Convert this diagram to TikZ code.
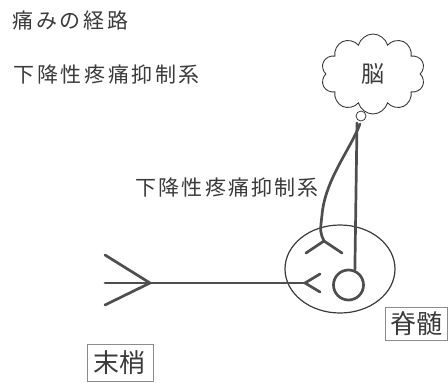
\documentclass[tikz,border=0pt]{standalone}
\usepackage{fontspec}
\usetikzlibrary{shapes.symbols,shapes.geometric}
\newfontfamily\jpplain{Noto Sans CJK JP}
\definecolor{ink}{HTML}{3A3A3A}
\definecolor{nervecol}{HTML}{4E4E4E}
\definecolor{boxline}{HTML}{8C8C8C}
% set a string with a fixed kern after every character
\makeatletter
\def\tracked#1#2{\def\tr@k{#1}\tr@loop#2\relax}
\def\tr@loop#1{\ifx#1\relax\else#1\kern\tr@k\expandafter\tr@loop\fi}
\makeatother
\begin{document}
\begin{tikzpicture}[x=1pt,y=-1pt,
  heading/.style={font=\jpplain\fontsize{21}{21}\selectfont, text=ink, inner sep=0pt, anchor=west},
  nerve/.style={draw=nervecol, line width=2.7pt, line cap=round, line join=round},
  tag/.style={draw=boxline, line width=0.8pt, text=ink, inner sep=0pt,
    font=\jpplain\fontsize{26}{26}\selectfont}
]
\useasboundingbox (0,0) rectangle (448,383);

% headings
\node[heading] (title) at (12.5,20.5) {\tracked{2.6pt}{痛みの経路}};
\node[heading] (system) at (13.5,74.5) {\tracked{2.6pt}{下降性疼痛抑制系}};
\node[heading] (pathlabel) at (135.5,188) {\tracked{2.1pt}{下降性疼痛抑制系}};

% brain
\node[cloud, draw=ink, line width=0.9pt, cloud puffs=10, cloud ignores aspect,
  minimum width=104pt, minimum height=80pt, inner sep=0pt, text=ink,
  font=\jpplain\fontsize{23}{23}\selectfont] (brain) at (373,74) {脳};
\node[circle, draw=ink, line width=0.8pt, minimum size=10pt, inner sep=0pt] (knot) at (361,116) {};

% spinal cord section
\node[ellipse, draw=ink, line width=1.2pt, minimum width=110pt, minimum height=88pt] (cord) at (340,269) {};
\node[circle, nerve, minimum size=30pt, inner sep=0pt] (soma) at (348.5,285) {};

% descending fibres
\coordinate (start1) at (357,123);
\coordinate (start2) at (360,124);
\coordinate (syn) at (324,241);
\coordinate (synL) at (306,253);
\coordinate (synR) at (342,253);
\draw[nerve] (start1) -- (soma.67);
\draw[nerve] (start2) .. controls (350,150) and (325,180) .. (322,215)
  .. controls (320,232) .. (syn);
\draw[nerve] (synL) -- (syn) -- (synR);

% peripheral afferent
\coordinate (entry) at (305,283);
\coordinate (entryU) at (320,274);
\coordinate (entryD) at (320,292);
\coordinate (tip) at (150,283);
\coordinate (endU) at (105,255);
\coordinate (endM) at (105,283);
\coordinate (endD) at (105,305);
\draw[nerve] (tip) -- (entry);
\draw[nerve] (entryU) -- (entry) -- (entryD);
\draw[nerve] (endU) -- (tip);
\draw[nerve] (endM) -- (tip);
\draw[nerve] (endD) -- (tip);

% labels
\node[tag, minimum width=66pt, minimum height=37pt] (periphery) at (120,362.5) {\tracked{1pt}{末梢}};
\node[tag, minimum width=62pt, minimum height=33pt] (spine) at (416,323.5) {脊髄};
\end{tikzpicture}
\end{document}
